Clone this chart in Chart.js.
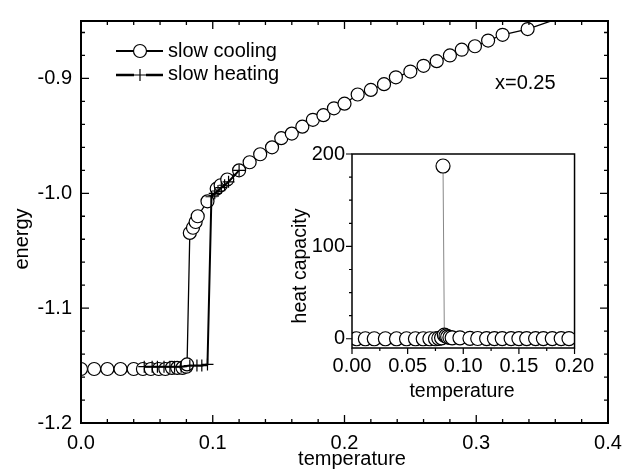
<!DOCTYPE html>
<html>
<head>
<meta charset="utf-8">
<script src="https://cdn.jsdelivr.net/npm/chart.js@4.4.0/dist/chart.umd.min.js"></script>
<style>
  html, body { margin: 0; padding: 0; background: #fff; }
  #wrap { position: relative; width: 641px; height: 474px; }
  #main { position: absolute; left: 0; top: 0; }
  #inset { position: absolute; left: 280px; top: 135px; }
</style>
</head>
<body>
<div id="wrap">
  <canvas id="main" width="641" height="474"></canvas>
  <canvas id="inset" width="320" height="275"></canvas>
</div>
<script>
/* energy vs temperature, with heat-capacity inset */

// ── data ──
const coolT = [0, 0.01, 0.02, 0.03, 0.04, 0.047, 0.053, 0.059, 0.064, 0.069, 0.073, 0.077, 0.080, 0.0805,
  0.0826, 0.085, 0.087, 0.0886, 0.096, 0.103, 0.106, 0.111, 0.120,
  0.128, 0.136, 0.145, 0.152, 0.160, 0.168, 0.176, 0.184, 0.192, 0.200,
  0.210, 0.220, 0.230, 0.239, 0.250, 0.260, 0.270, 0.280, 0.289, 0.299, 0.309, 0.320, 0.339, 0.372];
const coolE = [-1.153, -1.153, -1.153, -1.153, -1.153, -1.153, -1.153, -1.153, -1.153, -1.152, -1.152, -1.152, -1.151, -1.149,
  -1.0345, -1.030, -1.025, -1.020, -1.007, -0.996, -0.993, -0.988, -0.980,
  -0.973, -0.966, -0.960, -0.952, -0.948, -0.942, -0.936, -0.932, -0.926, -0.922,
  -0.914, -0.910, -0.905, -0.899, -0.894, -0.889, -0.885, -0.880, -0.875, -0.872, -0.867, -0.862, -0.857, -0.844];

const heatT = [0.048, 0.054, 0.058, 0.063, 0.0675, 0.071, 0.076, 0.0826, 0.088, 0.0917, 0.096,
  0.099, 0.1015, 0.104, 0.1065, 0.109, 0.112, 0.120];
const heatE = [-1.151, -1.151, -1.151, -1.151, -1.151, -1.151, -1.151, -1.150, -1.150, -1.150, -1.149,
  -1.003, -1.000, -0.998, -0.995, -0.993, -0.990, -0.980];

// inset: heat capacity (slow cooling)
const capT = [0.004, 0.012, 0.020, 0.030, 0.040, 0.049, 0.057, 0.064, 0.070, 0.075, 0.078, 0.0805,
  0.0818, 0.0830, 0.0845, 0.086, 0.088, 0.090, 0.097, 0.106, 0.113, 0.121, 0.128, 0.135, 0.143,
  0.150, 0.157, 0.165, 0.172, 0.180, 0.188, 0.195];
const capC = [0, 0, 0, 0, 0, 0, 0, 0, 0, 0, 0.5, 1,
  187, 4, 3, 2, 1.5, 1, 1, 0.5, 0.3, 0.2, 0.2, 0.2, 0.2,
  0.2, 0.2, 0.2, 0.2, 0.2, 0.2, 0.2];

const mainXTicks = [0, 0.1, 0.2, 0.3, 0.4];
const mainYTicks = [-1.2, -1.1, -1.0, -0.9];
const insetXTicks = [0, 0.05, 0.1, 0.15, 0.2];
const insetYTicks = [0, 100, 200];

const FONT = "'Liberation Sans', Arial, sans-serif";
const tickFont = { family: FONT, size: 20 };

const pts = (xs, ys) => xs.map((x, i) => ({ x, y: ys[i] }));
const keepTicks = list => scale => {
  scale.ticks = list.map(v => ({ value: v }));
};

// ── frame + tick marks (Origin-style, minor ticks included) ──
const frameTicks = {
  id: 'frameTicks',
  beforeDraw(chart, args, o) {
    if (!o.fill) return;
    const a = chart.chartArea, ctx = chart.ctx;
    ctx.save();
    ctx.fillStyle = '#fff';
    ctx.fillRect(a.left, a.top, a.width, a.height);
    ctx.restore();
  },
  afterDatasetsDraw(chart, args, o) {
    const ctx = chart.ctx, a = chart.chartArea;
    const xs = chart.scales.x, ys = chart.scales.y;
    const dir = o.inward ? 1 : -1;
    ctx.save();
    ctx.strokeStyle = '#000';
    ctx.lineWidth = o.tickWidth;
    ctx.beginPath();

    const each = (scale, minor, major, fn) => {
      const start = Math.ceil(scale.min / minor - 1e-6);
      for (let k = start; k * minor <= scale.max + 1e-9; k++) {
        const v = k * minor;
        const r = v / major;
        const isMajor = Math.abs(r - Math.round(r)) < 1e-6;
        fn(scale.getPixelForValue(v), isMajor ? o.majorLen : o.minorLen);
      }
    };
    each(xs, o.xMinor, o.xMajor, (px, len) => {
      ctx.moveTo(px, a.bottom); ctx.lineTo(px, a.bottom - dir * len);
      if (o.all) { ctx.moveTo(px, a.top); ctx.lineTo(px, a.top + dir * len); }
    });
    each(ys, o.yMinor, o.yMajor, (py, len) => {
      ctx.moveTo(a.left, py); ctx.lineTo(a.left + dir * len, py);
      if (o.all) { ctx.moveTo(a.right, py); ctx.lineTo(a.right - dir * len, py); }
    });
    ctx.stroke();

    ctx.lineWidth = o.frameWidth;
    ctx.strokeRect(a.left, a.top, a.width, a.height);
    ctx.restore();
  }
};

// ── axis titles, legend, annotation ──
function text(ctx, str, x, y, rot, align) {
  ctx.save();
  ctx.translate(x, y);
  if (rot) ctx.rotate(rot);
  ctx.textAlign = align || 'center';
  ctx.textBaseline = 'alphabetic';
  ctx.fillText(str, 0, 0);
  ctx.restore();
}

const mainLabels = {
  id: 'mainLabels',
  afterDraw(chart) {
    const ctx = chart.ctx;
    ctx.save();
    ctx.fillStyle = '#000';
    ctx.font = '20px ' + FONT;
    text(ctx, 'temperature', 352, 465);
    text(ctx, 'energy', 28, 239, -Math.PI / 2);
    text(ctx, 'x=0.25', 495, 89, 0, 'left');

    // legend: line - symbol - line, then label
    const rows = [
      { ds: chart.data.datasets[0], y: 51, base: 57 },
      { ds: chart.data.datasets[1], y: 75, base: 80 }
    ];
    rows.forEach(r => {
      const cx = 140;
      ctx.strokeStyle = '#000';
      ctx.lineWidth = r.ds.borderWidth + 0.5;
      ctx.beginPath();
      ctx.moveTo(116, r.y); ctx.lineTo(cx - r.ds.pointRadius, r.y);
      ctx.moveTo(cx + r.ds.pointRadius, r.y); ctx.lineTo(163, r.y);
      ctx.stroke();
      ctx.lineWidth = r.ds.pointBorderWidth;
      ctx.beginPath();
      if (r.ds.pointStyle === 'circle') {
        ctx.arc(cx, r.y, r.ds.pointRadius, 0, Math.PI * 2);
      } else {
        ctx.moveTo(cx - r.ds.pointRadius, r.y); ctx.lineTo(cx + r.ds.pointRadius, r.y);
        ctx.moveTo(cx, r.y - r.ds.pointRadius); ctx.lineTo(cx, r.y + r.ds.pointRadius);
      }
      ctx.stroke();
      text(ctx, r.ds.label, 168, r.base, 0, 'left');
    });
    ctx.restore();
  }
};

const insetLabels = {
  id: 'insetLabels',
  afterDraw(chart) {
    const ctx = chart.ctx;
    ctx.save();
    ctx.fillStyle = '#000';
    ctx.font = '19.5px ' + FONT;
    text(ctx, 'temperature', 182, 262);
    text(ctx, 'heat capacity', 26, 131, -Math.PI / 2);
    ctx.restore();
  }
};

// ── main chart ──
new Chart(document.getElementById('main'), {
  type: 'scatter',
  data: {
    datasets: [
      {
        label: 'slow cooling',
        data: pts(coolT, coolE),
        showLine: true,
        borderColor: '#000',
        borderWidth: 1.3,
        pointStyle: 'circle',
        pointRadius: 6.5,
        pointBorderWidth: 1.2,
        pointBorderColor: '#000',
        pointBackgroundColor: '#fff',
        order: 2
      },
      {
        label: 'slow heating',
        data: pts(heatT, heatE),
        showLine: true,
        borderColor: '#000',
        borderWidth: 2,
        pointStyle: 'cross',
        pointRadius: 6,
        pointBorderWidth: 1.2,
        pointBorderColor: '#000',
        order: 1
      }
    ]
  },
  options: {
    responsive: false,
    animation: false,
    events: [],
    layout: { padding: { top: 8, right: 33, left: 0, bottom: 0 } },
    plugins: {
      legend: { display: false },
      tooltip: { enabled: false },
      frameTicks: {
        inward: true, all: true, tickWidth: 1.3, frameWidth: 2,
        majorLen: 8, minorLen: 4,
        xMajor: 0.1, xMinor: 0.02, yMajor: 0.1, yMinor: 0.02
      }
    },
    scales: {
      x: {
        type: 'linear', min: 0, max: 0.4,
        grid: { display: false, drawTicks: false },
        border: { display: false },
        ticks: { color: '#000', font: tickFont, padding: 8, maxRotation: 0,
                 callback: v => v.toFixed(1) },
        afterBuildTicks: keepTicks(mainXTicks),
        afterFit: s => { s.height = 51; }
      },
      y: {
        type: 'linear', min: -1.2, max: -0.85,
        grid: { display: false, drawTicks: false },
        border: { display: false },
        ticks: { color: '#000', font: tickFont, padding: 9,
                 callback: v => v.toFixed(1) },
        afterBuildTicks: keepTicks(mainYTicks),
        afterFit: s => { s.width = 81; }
      }
    }
  },
  plugins: [frameTicks, mainLabels]
});

// ── inset: heat capacity ──
const peakIdx = capC.indexOf(Math.max(...capC));

new Chart(document.getElementById('inset'), {
  type: 'scatter',
  data: {
    datasets: [{
      label: 'heat capacity',
      data: pts(capT, capC),
      showLine: true,
      borderColor: '#888',
      borderWidth: 1,
      segment: {
        borderColor: c => (c.p1DataIndex === peakIdx ? 'rgba(0,0,0,0)' : undefined)
      },
      pointStyle: 'circle',
      pointRadius: 7,
      pointBorderWidth: 1.2,
      pointBorderColor: '#000',
      pointBackgroundColor: '#fff'
    }]
  },
  options: {
    responsive: false,
    animation: false,
    events: [],
    layout: { padding: { top: 15, right: 24, left: 0, bottom: 0 } },
    plugins: {
      legend: { display: false },
      tooltip: { enabled: false },
      frameTicks: {
        fill: true, inward: false, all: false, tickWidth: 1.2, frameWidth: 1.5,
        majorLen: 6, minorLen: 3,
        xMajor: 0.05, xMinor: 0.025, yMajor: 100, yMinor: 25
      }
    },
    scales: {
      x: {
        type: 'linear', min: 0, max: 0.2,
        grid: { display: false, drawTicks: false },
        border: { display: false },
        ticks: { color: '#000', font: tickFont, padding: 6, maxRotation: 0,
                 callback: v => v.toFixed(2) },
        afterBuildTicks: keepTicks(insetXTicks),
        afterFit: s => { s.height = 62; }
      },
      y: {
        type: 'linear', min: -10, max: 200,
        grid: { display: false, drawTicks: false },
        border: { display: false },
        ticks: { color: '#000', font: tickFont, padding: 7,
                 callback: v => String(v) },
        afterBuildTicks: keepTicks(insetYTicks),
        afterFit: s => { s.width = 72; }
      }
    }
  },
  plugins: [frameTicks, insetLabels]
});
</script>
</body>
</html>
